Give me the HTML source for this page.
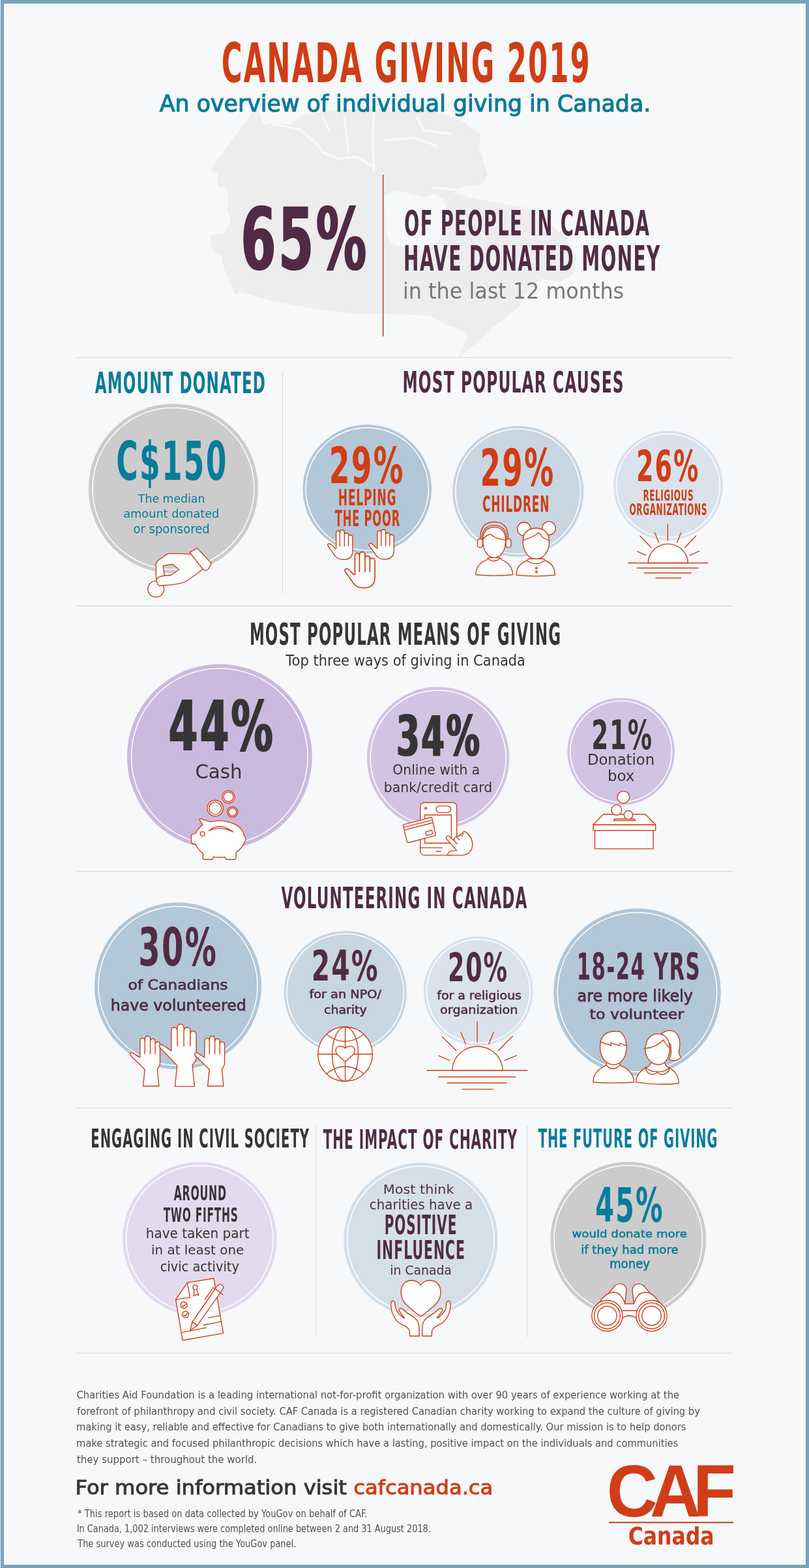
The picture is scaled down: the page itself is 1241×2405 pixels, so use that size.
<!DOCTYPE html>
<html lang="en"><head><meta charset="utf-8"><title>Canada Giving 2019</title>
<style>
html,body{margin:0;padding:0;background:#f7f8fa;}
body{width:1241px;height:2405px;overflow:hidden;position:relative;}
svg{position:absolute;left:0;top:0;display:block;}
text{font-size:100px;}
</style></head>
<body>
<svg width="1241" height="2405" viewBox="0 0 1241 2405">
<defs><filter id="hx" x="-5%" y="-5%" width="110%" height="110%"><feMorphology operator="dilate" radius="1.0 0.01"/></filter></defs>
<rect x="0" y="0" width="1241" height="2405" fill="#f7f8fa"/>
<path d="M322.6,260.4 L389.1,170.2 L397,170 L403.8,191.6 L417.3,188.2 L444.4,191.6 L462,177 L500,171 L530,168 L575,165 L600,172 L650,168 L700,180 L737,205 L735,228 L748,268 L740,282 L712,286 L695,296 L730,305 L770,312 L812,320 L840,340 L870,366 L885,395 L880,420 L860,432 L829,428 L805,452 L795,472 L757,501 L732,525 L703.5,549 L718,515 L708,506 L684,498 L660,484 L600,482 L541.7,480.3 L493.4,475.5 L420.9,462.2 L367.7,447.7 L360.4,452.5 L343.5,411.4 L341.1,394.5 L324.2,380 L322.6,360.8 L342.9,358.6 L354.2,340.5 L348.5,318 L348.5,288.6 L333.8,286.4 L333.8,266 Z M590,300 L605,292 L625,296 L650,302 L668,298 L680,305 L688,330 L686,360 L670,372 L655,385 L635,382 L615,378 L598,372 L591,350 Z" fill="#ededed" fill-rule="evenodd"/>
<path d="M418.7,190.6 L460.6,198.7 L486.4,221.2 L496,234.1 L518.6,243.8 L547.6,240.6 L573.4,256.7 M528.3,179.3 L531,205 L534.7,234.1 M573.4,172.9 L572,215 L573.4,263.1 M589.5,214.8 L637.9,211.6 L670.1,224.5 M495,180 L505,200 M640,180 L650,200 L690,205 M665,288 L700,291 L750,294" fill="none" stroke="#f7f8fa" stroke-width="3.5" stroke-linecap="round" stroke-linejoin="round"/>
<rect x="118" y="548.0" width="1006" height="1" fill="#d7d8da"/><rect x="118" y="929.0" width="1006" height="1" fill="#d7d8da"/><rect x="118" y="1336.0" width="1006" height="1" fill="#d7d8da"/><rect x="118" y="1699.0" width="1006" height="1" fill="#d7d8da"/><rect x="118" y="2075.0" width="1006" height="1" fill="#d7d8da"/><rect x="433.0" y="570" width="1" height="341" fill="#d7d8da"/><rect x="484.0" y="1727" width="1" height="324" fill="#d7d8da"/><rect x="808.0" y="1727" width="1" height="324" fill="#d7d8da"/><rect x="587" y="268" width="1.5" height="248" fill="#d13d16"/><rect x="934.2" y="2334.2" width="190.8" height="2" fill="#d13d16"/>
<circle cx="265.9" cy="749.3" r="130.0" fill="#cccccc"/><circle cx="265.9" cy="749.3" r="123.89" fill="none" stroke="#fff" stroke-width="1.5"/><circle cx="563.2" cy="750.1" r="98.8" fill="#b2c7d7"/><circle cx="563.2" cy="750.1" r="94.16" fill="none" stroke="#fff" stroke-width="1.5"/><circle cx="794.7" cy="753.8" r="100.5" fill="#c8d6e1"/><circle cx="794.7" cy="753.8" r="95.78" fill="none" stroke="#fff" stroke-width="1.5"/><circle cx="1024.9" cy="744.9" r="83.9" fill="#dae2eb"/><circle cx="1024.9" cy="744.9" r="79.40" fill="none" stroke="#fff" stroke-width="1.5"/><circle cx="336.8" cy="1160.5" r="142.0" fill="#cabade"/><circle cx="336.8" cy="1160.5" r="135.33" fill="none" stroke="#fff" stroke-width="1.5"/><circle cx="672.1" cy="1162.7" r="109.2" fill="#d1c4e3"/><circle cx="672.1" cy="1162.7" r="104.07" fill="none" stroke="#fff" stroke-width="1.5"/><circle cx="952.6" cy="1152.7" r="82.3" fill="#d1c4e3"/><circle cx="952.6" cy="1152.7" r="77.80" fill="none" stroke="#fff" stroke-width="1.5"/><circle cx="272.95" cy="1512.3" r="128.0" fill="#b2c7d7"/><circle cx="272.95" cy="1512.3" r="121.98" fill="none" stroke="#fff" stroke-width="1.5"/><circle cx="529.7" cy="1522.0" r="94.2" fill="#c8d6e1"/><circle cx="529.7" cy="1522.0" r="89.70" fill="none" stroke="#fff" stroke-width="1.5"/><circle cx="733.7" cy="1520.2" r="83.9" fill="#dae2eb"/><circle cx="733.7" cy="1520.2" r="79.40" fill="none" stroke="#fff" stroke-width="1.5"/><circle cx="977.5" cy="1521.8" r="128.3" fill="#b2c7d7"/><circle cx="977.5" cy="1521.8" r="122.27" fill="none" stroke="#fff" stroke-width="1.5"/><circle cx="306.3" cy="1900.4" r="118.2" fill="#e2daee"/><circle cx="306.3" cy="1900.4" r="112.64" fill="none" stroke="#fff" stroke-width="1.5"/><circle cx="645.4" cy="1901.5" r="118.2" fill="#d5dfe8"/><circle cx="645.4" cy="1901.5" r="112.64" fill="none" stroke="#fff" stroke-width="1.5"/><circle cx="963.7" cy="1901.4" r="119.4" fill="#cccccc"/><circle cx="963.7" cy="1901.4" r="113.79" fill="none" stroke="#fff" stroke-width="1.5"/>
<g transform="translate(215,830) scale(0.096712)" fill="#fff" stroke="#d0401a" stroke-width="14.48" stroke-linejoin="round" stroke-linecap="round">
<circle cx="250" cy="760" r="128"/>
<path fill-rule="evenodd" d="M815,205 L470,195 Q440,198 420,210 L280,310 Q250,340 250,370 L252,560 Q255,600 262,640 Q270,690 310,708 L500,692 Q600,682 700,650 Q800,600 1000,440 Z M365,390 L515,365 L615,450 L490,540 L385,545 L375,480 Z"/>
<path fill="none" d="M258,610 Q275,565 380,548 L490,540"/>
<path d="M785,178 L902,110 L1128,348 Q1100,430 1060,462 Q1020,470 990,440 Z"/>
</g>
<g transform="translate(495,805) scale(0.096712)" fill="#fff" stroke="#d0401a" stroke-width="14.48" stroke-linejoin="round" stroke-linecap="round">
<g><path d="M85,335 Q70,310 95,300 Q115,295 135,312 L195,372 L213,375 L213,125 Q215,95 242,95 Q270,95 272,120 L276,105 Q283,78 310,78 Q340,80 345,110 L348,150 Q355,130 380,130 Q406,132 410,160 L412,175 Q420,160 442,160 Q473,163 475,200 L475,420 Q470,550 330,550 Q240,550 200,500 Z"/><path fill="none" d="M272,120 L272,335 M345,110 L345,340 M410,160 L408,335"/></g>
<g transform="translate(655,-5)"><path d="M85,335 Q70,310 95,300 Q115,295 135,312 L195,372 L213,375 L213,125 Q215,95 242,95 Q270,95 272,120 L276,105 Q283,78 310,78 Q340,80 345,110 L348,150 Q355,130 380,130 Q406,132 410,160 L412,175 Q420,160 442,160 Q473,163 475,200 L475,420 Q470,550 330,550 Q240,550 200,500 Z"/><path fill="none" d="M272,120 L272,335 M345,110 L345,340 M410,160 L408,335"/></g>
<g transform="translate(350,425) scale(1.21) translate(-80,-75)"><path d="M85,335 Q70,310 95,300 Q115,295 135,312 L195,372 L213,375 L213,125 Q215,95 242,95 Q270,95 272,120 L276,105 Q283,78 310,78 Q340,80 345,110 L348,150 Q355,130 380,130 Q406,132 410,160 L412,175 Q420,160 442,160 Q473,163 475,200 L475,420 Q470,550 330,550 Q240,550 200,500 Z"/><path fill="none" d="M272,120 L272,335 M345,110 L345,340 M410,160 L408,335"/></g>
</g>
<g transform="translate(725,795) scale(0.108778)" fill="#fff" stroke="#d0401a" stroke-width="12.87" stroke-linejoin="round" stroke-linecap="round">
<path d="M45,795 Q50,640 200,585 L225,555 L385,555 L410,585 Q560,640 565,795 Q305,820 45,795 Z"/>
<path fill="none" d="M215,565 Q300,640 385,565"/>
<path d="M145,330 Q140,200 210,150 Q300,100 400,150 Q470,200 465,330 Q460,470 380,530 Q305,580 230,530 Q150,470 145,330 Z"/>
<path fill="none" d="M150,290 Q200,230 250,225 Q350,300 465,305"/>
<path fill="none" d="M110,300 Q100,50 305,50 Q510,50 500,300 M130,300 Q130,100 305,100 Q480,100 480,300"/>
<rect x="70" y="290" width="70" height="120" rx="30"/>
<rect x="470" y="290" width="70" height="120" rx="30"/>
<circle cx="725" cy="150" r="95"/>
<circle cx="1075" cy="140" r="95"/>
<path d="M615,800 Q620,650 760,600 L790,570 L1000,570 L1030,600 Q1160,650 1160,800 Q890,830 615,800 Z"/>
<path fill="none" d="M770,600 Q895,680 1010,600"/>
<path d="M710,340 Q700,150 895,135 Q1085,150 1080,340 Q1075,480 985,545 Q895,600 805,545 Q715,480 710,340 Z"/>
<path fill="none" d="M715,305 Q850,270 935,200 Q980,280 1075,310"/>
<circle cx="900" cy="700" r="12"/><circle cx="900" cy="755" r="12"/>
</g>
<g transform="translate(955,800) scale(0.112816)" fill="#fff" stroke="#d0401a" stroke-width="12.41" stroke-linejoin="round" stroke-linecap="round">
<path d="M348,563 A270,258 0 0 1 888,563 Z"/>
<path fill="none" d="M75,563 H1160 M195,632 H1030 M292,698 H932 M452,767 H792 M615,35 V258 M438,152 L492,282 M795,152 L740,282 M238,198 L388,350 M998,195 L848,350 M202,407 L318,458 M1043,402 L915,458"/>
</g>
<g transform="translate(285,1205) scale(0.080580)" fill="#fff" stroke="#d0401a" stroke-width="17.37" stroke-linejoin="round" stroke-linecap="round">
<circle cx="812" cy="215" r="120"/><circle cx="812" cy="215" r="92" fill="none"/>
<circle cx="560" cy="430" r="150"/><circle cx="560" cy="430" r="118" fill="none"/>
<circle cx="890" cy="500" r="100"/><circle cx="890" cy="500" r="75" fill="none"/>
<path d="M320,750 L262,650 Q258,628 282,630 L470,690 Q700,630 950,740 Q1080,810 1115,960 Q1145,985 1140,1030 Q1125,1060 1110,1100 Q1060,1200 960,1270 L950,1390 Q945,1405 920,1405 L780,1405 Q755,1400 750,1370 L745,1360 Q640,1370 525,1358 L515,1390 Q505,1405 480,1405 L345,1405 Q325,1400 325,1380 L330,1290 Q240,1230 190,1120 L130,1105 Q105,1095 105,1070 L105,960 Q110,925 140,920 L185,910 Q230,810 320,750 Z"/>
<circle cx="318" cy="918" r="42"/>
<path d="M440,860 Q640,690 900,880 Q650,760 440,860 Z"/>
</g>
<g transform="translate(610,1222) scale(0.100725)" fill="#fff" stroke="#d0401a" stroke-width="13.90" stroke-linejoin="round" stroke-linecap="round">
<rect x="345" y="90" width="555" height="800" rx="60"/>
<rect x="413" y="278" width="405" height="430"/>
<rect x="585" y="140" width="225" height="100" rx="50"/>
<circle cx="428" cy="175" r="15"/>
<path fill="none" d="M350,778 H680 M590,832 H655"/>
<path d="M85,425 L505,315 Q520,315 525,330 L580,590 L165,700 Q150,700 145,690 L85,440 Z"/>
<path fill="none" d="M95,465 L515,358 M110,505 L525,400"/>
<path d="M425,535 L520,510 L535,565 L440,592 Z"/>
<path d="M750,650 Q725,620 750,600 Q775,590 795,610 L860,670 L858,640 Q870,610 900,615 Q915,590 945,595 L950,580 Q970,555 1000,570 L990,545 Q1010,520 1040,540 Q1140,620 1140,730 Q1130,870 1000,890 L760,890 Q760,840 820,825 L900,820 Z"/>
<path fill="none" d="M860,670 L905,720 M900,615 L940,655 M950,582 L990,600"/>
</g>
<g transform="translate(900,1205) scale(0.092678)" fill="#fff" stroke="#d0401a" stroke-width="15.11" stroke-linejoin="round" stroke-linecap="round">
<rect x="135" y="740" width="965" height="305"/>
<rect x="108" y="648" width="1032" height="92"/>
<path d="M275,475 L970,475 L1140,648 L108,648 Z"/>
<path d="M470,550 L780,550 L805,578 L445,578 Z"/>
<circle cx="608" cy="190" r="100"/>
<circle cx="495" cy="405" r="85"/>
<circle cx="690" cy="485" r="72"/>
</g>
<g transform="translate(190,1560) scale(0.132961)" fill="#fff" stroke="#d0401a" stroke-width="10.53" stroke-linejoin="round" stroke-linecap="round">
<g><path d="M75,440 Q65,420 85,412 Q100,408 115,420 L185,465 L188,270 Q190,245 215,243 Q240,245 242,270 L245,245 Q250,218 275,218 Q303,220 305,250 L308,270 Q312,248 335,250 Q360,252 362,285 L365,300 Q372,283 392,285 Q415,290 417,315 L417,540 Q410,575 385,600 L405,795 L222,795 L242,605 Z"/><path fill="none" d="M242,270 L242,425 M305,255 L305,425 M362,290 L362,425"/></g>
<g><path d="M410,345 Q400,325 425,318 Q440,315 455,325 L548,390 L548,150 Q550,118 582,118 Q612,120 615,150 L618,115 Q622,82 655,82 Q688,85 690,115 L695,150 Q700,118 730,118 Q762,120 765,150 L768,185 Q775,160 800,160 Q830,165 835,195 L835,480 Q830,520 790,550 L815,800 L590,800 L615,560 Z"/><path fill="none" d="M615,150 L618,335 M692,150 L692,335 M765,185 L765,335"/></g>
<g transform="translate(745,0)"><path d="M75,440 Q65,420 85,412 Q100,408 115,420 L185,465 L188,270 Q190,245 215,243 Q240,245 242,270 L245,245 Q250,218 275,218 Q303,220 305,250 L308,270 Q312,248 335,250 Q360,252 362,285 L365,300 Q372,283 392,285 Q415,290 417,315 L417,540 Q410,575 385,600 L405,795 L222,795 L242,605 Z"/><path fill="none" d="M242,270 L242,425 M305,255 L305,425 M362,290 L362,425"/></g>
</g>
<g transform="translate(480,1568) scale(0.080580)" fill="#fff" stroke="#d0401a" stroke-width="17.37" stroke-linejoin="round" stroke-linecap="round">
<circle cx="615" cy="605" r="519"/>
<ellipse cx="615" cy="605" rx="248" ry="519" fill="none"/>
<path fill="none" d="M615,86 V1124 M97,605 H1133 M260,230 Q615,500 965,230 M265,975 Q615,705 965,975"/>
<path d="M615,750 L470,620 Q420,560 440,500 Q470,450 530,455 Q590,465 615,495 Q640,465 700,455 Q760,450 790,500 Q810,560 760,620 Z"/>
</g>
<g transform="translate(650,1560) scale(0.132961)" fill="#fff" stroke="#d0401a" stroke-width="10.53" stroke-linejoin="round" stroke-linecap="round">
<path d="M330,615 A290,277 0 0 1 910,615 Z"/>
<path fill="none" d="M40,615 H1195 M168,690 H1058 M272,760 H952 M443,832 H803 M617,50 V290 M428,175 L485,312 M806,175 L750,312 M213,228 L375,385 M1025,220 L862,385 M175,447 L298,500 M1070,442 L935,500"/>
</g>
<g transform="translate(900,1570) scale(0.124906)" fill="#fff" stroke="#d0401a" stroke-width="11.21" stroke-linejoin="round" stroke-linecap="round">
<path d="M80,720 Q80,580 230,520 L250,480 L400,480 L420,520 Q575,580 580,720 Q330,735 80,720 Z"/>
<path fill="none" d="M240,510 Q325,600 405,510"/>
<path d="M165,300 Q160,150 260,110 Q330,85 410,100 Q490,160 490,300 Q485,420 410,480 Q330,530 250,480 Q170,420 165,300 Z"/>
<path fill="none" d="M165,215 L185,232 Q250,250 300,270 L295,235 Q350,255 400,270 L410,240 Q440,260 485,270"/>
<path d="M920,120 Q1000,60 1080,100 Q1160,160 1140,300 Q1120,380 1160,410 Q1100,480 1010,440 Q1050,380 1030,260 Z"/>
<path d="M605,720 Q610,590 760,525 L800,470 L950,470 L980,525 Q1130,590 1130,735 Q870,760 605,720 Z"/>
<path d="M720,535 Q730,610 800,625 Q860,620 870,590 Q880,620 940,625 Q1010,610 1020,540 Q950,600 870,590 Q790,600 720,535 Z"/>
<path d="M720,330 Q720,140 870,125 Q1010,130 1020,300 Q1020,420 955,480 Q875,530 800,480 Q725,420 720,330 Z"/>
<path fill="none" d="M705,305 Q850,300 940,200 Q975,260 1010,290"/>
</g>
<g transform="translate(262,1955) scale(0.072516)" fill="#fff" stroke="#d0401a" stroke-width="19.31" stroke-linejoin="round" stroke-linecap="round">
<path d="M350,170 L910,80 L1110,1240 L250,1390 L105,525 Z"/>
<path fill="none" d="M105,525 L405,485 L350,170 M240,1222 L750,1122 M790,912 L1040,870 M690,1068 L1060,995"/>
<circle cx="515" cy="270" r="50"/>
<path d="M490,320 L488,455 L540,420 L590,435 L550,320"/>
<circle cx="275" cy="645" r="70"/><path fill="none" d="M235,650 L265,680 L320,620"/>
<circle cx="310" cy="845" r="70"/><path fill="none" d="M270,850 L300,880 L355,820"/>
<path d="M455,1000 L940,300 L1050,380 L560,1075 Z"/>
<path d="M455,1000 L560,1075 L410,1185 Z"/>
<path d="M940,300 Q990,200 1060,205 Q1120,230 1110,290 L1050,380 Z"/>
<path fill="none" d="M720,530 L895,275 L940,300 M1040,385 L1100,420"/>
</g>
<g transform="translate(590,1958) scale(0.088652)" fill="#fff" stroke="#d0401a" stroke-width="15.79" stroke-linejoin="round" stroke-linecap="round">
<path d="M625,690 Q470,580 360,470 Q280,380 285,250 Q300,80 460,65 Q570,65 625,150 Q680,65 790,65 Q950,80 970,250 Q975,380 890,470 Q780,580 625,690 Z"/>
<path d="M435,1030 L432,950 Q420,880 330,845 Q230,800 195,745 Q110,630 110,480 Q112,420 147,420 Q182,425 183,500 Q190,580 250,650 L330,715 L345,712 Q300,660 255,600 Q240,560 270,550 Q300,545 340,585 Q400,640 480,690 Q580,740 595,850 L600,1030 Z"/>
<g transform="translate(1250,0) scale(-1,1)"><path d="M435,1030 L432,950 Q420,880 330,845 Q230,800 195,745 Q110,630 110,480 Q112,420 147,420 Q182,425 183,500 Q190,580 250,650 L330,715 L345,712 Q300,660 255,600 Q240,560 270,550 Q300,545 340,585 Q400,640 480,690 Q580,740 595,850 L600,1030 Z"/></g>
</g>
<g transform="translate(900,1960) scale(0.104756)" fill="#fff" stroke="#d0401a" stroke-width="13.36" stroke-linejoin="round" stroke-linecap="round">
<path d="M330,215 L420,110 Q480,70 540,100 Q590,140 580,200 L560,380 L330,380 Z"/><path d="M120,460 L200,340 Q280,215 390,210 Q510,215 560,380 L530,480 L300,560 Z"/>
<g transform="translate(1250,0) scale(-1,1)"><path d="M330,215 L420,110 Q480,70 540,100 Q590,140 580,200 L560,380 L330,380 Z"/><path d="M120,460 L200,340 Q280,215 390,210 Q510,215 560,380 L530,480 L300,560 Z"/></g>
<path stroke="none" d="M525,378 H725 V480 L725,590 Q625,510 525,590 Z"/>
<path fill="none" d="M555,380 H695 M525,480 H725 M525,590 Q625,510 725,590"/>
<circle cx="300" cy="555" r="225"/><circle cx="300" cy="555" r="190" fill="none"/><circle cx="300" cy="555" r="140" fill="none"/>
<circle cx="950" cy="555" r="225"/><circle cx="950" cy="555" r="190" fill="none"/><circle cx="950" cy="555" r="140" fill="none"/>
</g>
<text transform="matrix(0.433 0 0 0.836 339.705 126.094)" font-family="DejaVu Sans, sans-serif" font-weight="bold" fill="#d13d16" filter="url(#hx)" letter-spacing="5.0">CANADA GIVING 2019</text>
<text transform="matrix(0.348 0 0 0.355 244.775 170.653)" font-family="DejaVu Sans, sans-serif" font-weight="normal" fill="#097c99" stroke="#097c99" stroke-width="3.3" stroke-linejoin="miter">An overview of individual giving in Canada.</text>
<text transform="matrix(0.773 0 0 1.313 369.551 412.649)" font-family="DejaVu Sans, sans-serif" font-weight="bold" fill="#512c45" filter="url(#hx)" letter-spacing="5.0">65%</text>
<text transform="matrix(0.274 0 0 0.526 619.989 360.678)" font-family="DejaVu Sans, sans-serif" font-weight="bold" fill="#512c45" filter="url(#hx)" letter-spacing="5.0">OF PEOPLE IN CANADA</text>
<text transform="matrix(0.28 0 0 0.53 619.095 415.271)" font-family="DejaVu Sans, sans-serif" font-weight="bold" fill="#512c45" filter="url(#hx)" letter-spacing="5.0">HAVE DONATED MONEY</text>
<text transform="matrix(0.318 0 0 0.339 618.019 458.47)" font-family="DejaVu Sans, sans-serif" font-weight="normal" fill="#777777">in the last 12 months</text>
<text transform="matrix(0.23 0 0 0.444 145.73 603.306)" font-family="DejaVu Sans, sans-serif" font-weight="bold" fill="#097c99" filter="url(#hx)" letter-spacing="5.0">AMOUNT DONATED</text>
<text transform="matrix(0.233 0 0 0.447 617.414 602.302)" font-family="DejaVu Sans, sans-serif" font-weight="bold" fill="#512c45" filter="url(#hx)" letter-spacing="5.0">MOST POPULAR CAUSES</text>
<text transform="matrix(0.455 0 0 0.818 178.322 735.722)" font-family="DejaVu Sans, sans-serif" font-weight="bold" fill="#097c99" filter="url(#hx)" letter-spacing="5.0">C$150</text>
<text transform="matrix(0.173 0 0 0.178 211.87 771.422)" font-family="DejaVu Sans, sans-serif" font-weight="normal" fill="#097c99">The median</text>
<text transform="matrix(0.177 0 0 0.179 189.269 794.22)" font-family="DejaVu Sans, sans-serif" font-weight="normal" fill="#097c99">amount donated</text>
<text transform="matrix(0.18 0 0 0.197 204.458 818.089)" font-family="DejaVu Sans, sans-serif" font-weight="normal" fill="#097c99">or sponsored</text>
<text transform="matrix(0.456 0 0 0.773 504.795 741.292)" font-family="DejaVu Sans, sans-serif" font-weight="bold" fill="#d13d16" filter="url(#hx)" letter-spacing="5.0">29%</text>
<text transform="matrix(0.17 0 0 0.33 518.845 774.6)" font-family="DejaVu Sans, sans-serif" font-weight="bold" fill="#d13d16" filter="url(#hx)" letter-spacing="5.0">HELPING</text>
<text transform="matrix(0.163 0 0 0.33 513.763 806.6)" font-family="DejaVu Sans, sans-serif" font-weight="bold" fill="#d13d16" filter="url(#hx)" letter-spacing="5.0">THE POOR</text>
<text transform="matrix(0.452 0 0 0.778 736.618 744.684)" font-family="DejaVu Sans, sans-serif" font-weight="bold" fill="#d13d16" filter="url(#hx)" letter-spacing="5.0">29%</text>
<text transform="matrix(0.169 0 0 0.338 740.077 784.8)" font-family="DejaVu Sans, sans-serif" font-weight="bold" fill="#d13d16" filter="url(#hx)" letter-spacing="5.0">CHILDREN</text>
<text transform="matrix(0.383 0 0 0.661 975.894 737.667)" font-family="DejaVu Sans, sans-serif" font-weight="bold" fill="#d13d16" filter="url(#hx)" letter-spacing="5.0">26%</text>
<text transform="matrix(0.12 0 0 0.238 986.381 768)" font-family="DejaVu Sans, sans-serif" font-weight="bold" fill="#d13d16" filter="url(#hx)" letter-spacing="5.0">RELIGIOUS</text>
<text transform="matrix(0.12 0 0 0.245 965.556 790)" font-family="DejaVu Sans, sans-serif" font-weight="bold" fill="#d13d16" filter="url(#hx)" letter-spacing="5.0">ORGANIZATIONS</text>
<text transform="matrix(0.229 0 0 0.463 382.941 989)" font-family="DejaVu Sans, sans-serif" font-weight="bold" fill="#363636" filter="url(#hx)" letter-spacing="5.0">MOST POPULAR MEANS OF GIVING</text>
<text transform="matrix(0.21 0 0 0.236 438.329 1021.444)" font-family="DejaVu Sans, sans-serif" font-weight="normal" fill="#363636">Top three ways of giving in Canada</text>
<text transform="matrix(0.641 0 0 1.061 258.837 1150.843)" font-family="DejaVu Sans, sans-serif" font-weight="bold" fill="#363636" filter="url(#hx)" letter-spacing="5.0">44%</text>
<text transform="matrix(0.293 0 0 0.306 299.424 1194.422)" font-family="DejaVu Sans, sans-serif" font-weight="normal" fill="#363636">Cash</text>
<text transform="matrix(0.514 0 0 0.856 607.899 1159.063)" font-family="DejaVu Sans, sans-serif" font-weight="bold" fill="#363636" filter="url(#hx)" letter-spacing="5.0">34%</text>
<text transform="matrix(0.203 0 0 0.205 602.346 1187.58)" font-family="DejaVu Sans, sans-serif" font-weight="normal" fill="#363636">Online with a</text>
<text transform="matrix(0.204 0 0 0.21 588.804 1214.672)" font-family="DejaVu Sans, sans-serif" font-weight="normal" fill="#363636">bank/credit card</text>
<text transform="matrix(0.373 0 0 0.63 907.156 1149.216)" font-family="DejaVu Sans, sans-serif" font-weight="bold" fill="#363636" filter="url(#hx)" letter-spacing="5.0">21%</text>
<text transform="matrix(0.227 0 0 0.221 900.976 1173.454)" font-family="DejaVu Sans, sans-serif" font-weight="normal" fill="#363636">Donation</text>
<text transform="matrix(0.229 0 0 0.221 932.008 1198.054)" font-family="DejaVu Sans, sans-serif" font-weight="normal" fill="#363636">box</text>
<text transform="matrix(0.23 0 0 0.441 431.53 1392.81)" font-family="DejaVu Sans, sans-serif" font-weight="bold" fill="#512c45" filter="url(#hx)" letter-spacing="5.0">VOLUNTEERING IN CANADA</text>
<text transform="matrix(0.48 0 0 0.803 212.182 1481.345)" font-family="DejaVu Sans, sans-serif" font-weight="bold" fill="#512c45" filter="url(#hx)" letter-spacing="5.0">30%</text>
<text transform="matrix(0.235 0 0 0.205 196.385 1517.741)" font-family="DejaVu Sans, sans-serif" font-weight="normal" fill="#512c45" stroke="#512c45" stroke-width="3.3" stroke-linejoin="miter">of Canadians</text>
<text transform="matrix(0.237 0 0 0.238 169.641 1550.035)" font-family="DejaVu Sans, sans-serif" font-weight="normal" fill="#512c45" stroke="#512c45" stroke-width="3.3" stroke-linejoin="miter">have volunteered</text>
<text transform="matrix(0.408 0 0 0.64 477.819 1504.1)" font-family="DejaVu Sans, sans-serif" font-weight="bold" fill="#512c45" filter="url(#hx)" letter-spacing="5.0">24%</text>
<text transform="matrix(0.193 0 0 0.179 474.417 1531.424)" font-family="DejaVu Sans, sans-serif" font-weight="normal" fill="#512c45" stroke="#512c45" stroke-width="3.3" stroke-linejoin="miter">for an NPO/</text>
<text transform="matrix(0.189 0 0 0.184 497.025 1554.976)" font-family="DejaVu Sans, sans-serif" font-weight="normal" fill="#512c45" stroke="#512c45" stroke-width="3.3" stroke-linejoin="miter">charity</text>
<text transform="matrix(0.365 0 0 0.61 687.112 1504.847)" font-family="DejaVu Sans, sans-serif" font-weight="bold" fill="#512c45" filter="url(#hx)" letter-spacing="5.0">20%</text>
<text transform="matrix(0.189 0 0 0.184 670.317 1532.676)" font-family="DejaVu Sans, sans-serif" font-weight="normal" fill="#512c45" stroke="#512c45" stroke-width="3.3" stroke-linejoin="miter">for a religious</text>
<text transform="matrix(0.192 0 0 0.169 675.116 1554.823)" font-family="DejaVu Sans, sans-serif" font-weight="normal" fill="#512c45" stroke="#512c45" stroke-width="3.3" stroke-linejoin="miter">organization</text>
<text transform="matrix(0.307 0 0 0.563 884.65 1503.22)" font-family="DejaVu Sans, sans-serif" font-weight="bold" fill="#512c45" filter="url(#hx)" letter-spacing="5.0">18-24 YRS</text>
<text transform="matrix(0.239 0 0 0.248 885.574 1536.373)" font-family="DejaVu Sans, sans-serif" font-weight="normal" fill="#512c45" stroke="#512c45" stroke-width="3.3" stroke-linejoin="miter">are more likely</text>
<text transform="matrix(0.237 0 0 0.219 904.621 1562.798)" font-family="DejaVu Sans, sans-serif" font-weight="normal" fill="#512c45" stroke="#512c45" stroke-width="3.3" stroke-linejoin="miter">to volunteer</text>
<text transform="matrix(0.196 0 0 0.394 139.366 1760.284)" font-family="DejaVu Sans, sans-serif" font-weight="bold" fill="#363636" filter="url(#hx)" letter-spacing="5.0">ENGAGING IN CIVIL SOCIETY</text>
<text transform="matrix(0.2 0 0 0.411 495.7 1761.5)" font-family="DejaVu Sans, sans-serif" font-weight="bold" fill="#512c45" filter="url(#hx)" letter-spacing="5.0">THE IMPACT OF CHARITY</text>
<text transform="matrix(0.194 0 0 0.399 825.694 1760.077)" font-family="DejaVu Sans, sans-serif" font-weight="bold" fill="#097c99" filter="url(#hx)" letter-spacing="5.0">THE FUTURE OF GIVING</text>
<text transform="matrix(0.157 0 0 0.323 266.657 1841)" font-family="DejaVu Sans, sans-serif" font-weight="bold" fill="#363636" filter="url(#hx)" letter-spacing="5.0">AROUND</text>
<text transform="matrix(0.154 0 0 0.31 250.654 1873.9)" font-family="DejaVu Sans, sans-serif" font-weight="bold" fill="#363636" filter="url(#hx)" letter-spacing="5.0">TWO FIFTHS</text>
<text transform="matrix(0.2 0 0 0.206 223.835 1899.089)" font-family="DejaVu Sans, sans-serif" font-weight="normal" fill="#363636">have taken part</text>
<text transform="matrix(0.199 0 0 0.2 232.037 1923.588)" font-family="DejaVu Sans, sans-serif" font-weight="normal" fill="#363636">in at least one</text>
<text transform="matrix(0.194 0 0 0.221 245.689 1949.556)" font-family="DejaVu Sans, sans-serif" font-weight="normal" fill="#363636">civic activity</text>
<text transform="matrix(0.208 0 0 0.195 587.851 1830.796)" font-family="DejaVu Sans, sans-serif" font-weight="normal" fill="#512c45">Most think</text>
<text transform="matrix(0.198 0 0 0.209 566.873 1855.474)" font-family="DejaVu Sans, sans-serif" font-weight="normal" fill="#512c45">charities have a</text>
<text transform="matrix(0.2 0 0 0.406 589.639 1892.8)" font-family="DejaVu Sans, sans-serif" font-weight="bold" fill="#512c45" filter="url(#hx)" letter-spacing="5.0">POSITIVE</text>
<text transform="matrix(0.204 0 0 0.396 577.511 1930.581)" font-family="DejaVu Sans, sans-serif" font-weight="bold" fill="#512c45" filter="url(#hx)" letter-spacing="5.0">INFLUENCE</text>
<text transform="matrix(0.188 0 0 0.195 598.239 1954.796)" font-family="DejaVu Sans, sans-serif" font-weight="normal" fill="#512c45">in Canada</text>
<text transform="matrix(0.414 0 0 0.721 913.22 1873.573)" font-family="DejaVu Sans, sans-serif" font-weight="bold" fill="#097c99" filter="url(#hx)" letter-spacing="5.0">45%</text>
<text transform="matrix(0.182 0 0 0.155 877.431 1898.203)" font-family="DejaVu Sans, sans-serif" font-weight="normal" fill="#097c99" stroke="#097c99" stroke-width="3.3" stroke-linejoin="miter">would donate more</text>
<text transform="matrix(0.18 0 0 0.176 891.309 1922.561)" font-family="DejaVu Sans, sans-serif" font-weight="normal" fill="#097c99" stroke="#097c99" stroke-width="3.3" stroke-linejoin="miter">if they had more</text>
<text transform="matrix(0.181 0 0 0.188 934.984 1945.28)" font-family="DejaVu Sans, sans-serif" font-weight="normal" fill="#097c99" stroke="#097c99" stroke-width="3.3" stroke-linejoin="miter">money</text>
<text transform="matrix(0.148 0 0 0.167 117.506 2145)" font-family="DejaVu Sans, sans-serif" font-weight="normal" fill="#525252">Charities Aid Foundation is a leading international not-for-profit organization with over 90 years of experience working at the</text>
<text transform="matrix(0.147 0 0 0.167 117.97 2169.7)" font-family="DejaVu Sans, sans-serif" font-weight="normal" fill="#525252">forefront of philanthropy and civil society. CAF Canada is a registered Canadian charity working to expand the culture of giving by</text>
<text transform="matrix(0.147 0 0 0.167 117.049 2194.4)" font-family="DejaVu Sans, sans-serif" font-weight="normal" fill="#525252">making it easy, reliable and effective for Canadians to give both internationally and domestically. Our mission is to help donors</text>
<text transform="matrix(0.147 0 0 0.167 117.049 2219.1)" font-family="DejaVu Sans, sans-serif" font-weight="normal" fill="#525252">make strategic and focused philanthropic decisions which have a lasting, positive impact on the individuals and communities</text>
<text transform="matrix(0.15 0 0 0.167 117.965 2243.8)" font-family="DejaVu Sans, sans-serif" font-weight="normal" fill="#525252">they support – throughout the world.</text>
<text transform="matrix(0.322 0 0 0.302 115.51 2292.301)" font-family="DejaVu Sans, sans-serif" font-weight="normal" fill="#363636" stroke="#363636" stroke-width="3.3" stroke-linejoin="miter"><tspan fill="#363636" stroke="#363636">For more information visit </tspan><tspan fill="#d13d16" stroke="#d13d16">cafcanada.ca</tspan></text>
<text transform="matrix(0.131 0 0 0.153 119.095 2326.8)" font-family="DejaVu Sans, sans-serif" font-weight="normal" fill="#525252">* This report is based on data collected by YouGov on behalf of CAF.</text>
<text transform="matrix(0.129 0 0 0.154 117.787 2349.9)" font-family="DejaVu Sans, sans-serif" font-weight="normal" fill="#525252">In Canada, 1,002 interviews were completed online between 2 and 31 August 2018.</text>
<text transform="matrix(0.13 0 0 0.155 119.203 2372.8)" font-family="DejaVu Sans, sans-serif" font-weight="normal" fill="#525252">The survey was conducted using the YouGov panel.</text>
<text transform="matrix(1.079 0 0 1.139 930.828 2325.72)" font-family="Liberation Sans, sans-serif" font-weight="bold" fill="#d13d16" letter-spacing="-11.0">CAF</text>
<text transform="matrix(0.315 0 0 0.364 963.725 2368.832)" font-family="DejaVu Sans, sans-serif" font-weight="bold" fill="#d13d16">Canada</text>
<path fill="#79a1ba" fill-rule="evenodd" d="M1,0 H1241 V2405 H1 Z M6,5.5 H1236 V2400 H6 Z"/><rect x="0" y="0" width="1" height="2405" fill="#e6edf1"/>
</svg>
</body></html>
